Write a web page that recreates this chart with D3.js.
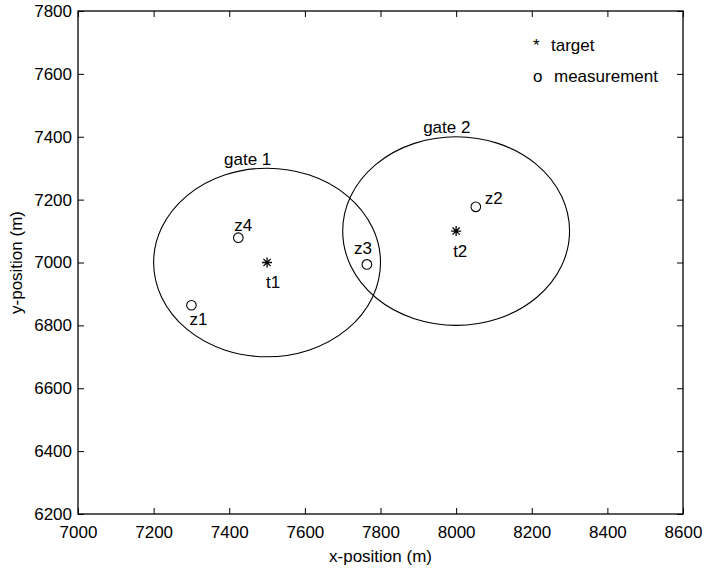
<!DOCTYPE html>
<html>
<head>
<meta charset="utf-8">
<script src="https://cdn.jsdelivr.net/npm/d3@7"></script>
<style>
  body { margin: 0; background: #fff; }
  text { font-family: Arial, "Liberation Sans", Helvetica, sans-serif; fill: #000; }
</style>
</head>
<body>
<script>
// Chart data
var xTicks = [7000, 7200, 7400, 7600, 7800, 8000, 8200, 8400, 8600];
var yTicks = [6200, 6400, 6600, 6800, 7000, 7200, 7400, 7600, 7800];

var targets = [
  {name: "t1", x: 7500, y: 7000},
  {name: "t2", x: 8000, y: 7100}
];
var measurements = [
  {name: "z1", x: 7300, y: 6864},
  {name: "z2", x: 8052, y: 7177},
  {name: "z3", x: 7764, y: 6994},
  {name: "z4", x: 7424, y: 7079}
];
var gates = [
  {name: "gate 1", x: 7500, y: 7000, r: 300},
  {name: "gate 2", x: 8000, y: 7100, r: 300}
];

// label offsets in pixels relative to the mark (layout only)
var labelOffset = {
  t1: [-1, 25], t2: [-3, 26],
  z1: [-2, 20], z2: [9, -3], z3: [-13, -10], z4: [-4, -7],
  "gate 1": [-43, -3], "gate 2": [-33, -4]
};

var width = 704, height = 569;
var margin = {left: 78, right: 21, top: 11, bottom: 55};

var svg = d3.select("body").append("svg")
  .attr("width", width)
  .attr("height", height);

var x = d3.scaleLinear().domain([7000, 8600]).range([margin.left, width - margin.right]);
var y = d3.scaleLinear().domain([6200, 7800]).range([height - margin.bottom, margin.top]);

var fs = 17;
var tickLen = 6;

// axes (ticks inward, box all round)
function styleAxis(g) {
  g.select(".domain").remove();
  g.selectAll("line").attr("stroke", "#000");
  g.selectAll("text").attr("font-size", fs).attr("font-family", null);
}
svg.append("g")
  .attr("transform", "translate(0," + y(6200) + ")")
  .call(d3.axisBottom(x).tickValues(xTicks).tickSizeInner(-tickLen).tickSizeOuter(0).tickPadding(12).tickFormat(d3.format("d")))
  .call(styleAxis);
svg.append("g")
  .attr("transform", "translate(0," + y(7800) + ")")
  .call(d3.axisTop(x).tickValues(xTicks).tickSizeInner(-tickLen).tickSizeOuter(0).tickFormat(""))
  .call(styleAxis);
svg.append("g")
  .attr("transform", "translate(" + x(7000) + ",0)")
  .call(d3.axisLeft(y).tickValues(yTicks).tickSizeInner(-tickLen).tickSizeOuter(0).tickPadding(6).tickFormat(d3.format("d")))
  .call(styleAxis);
svg.append("g")
  .attr("transform", "translate(" + x(8600) + ",0)")
  .call(d3.axisRight(y).tickValues(yTicks).tickSizeInner(-tickLen).tickSizeOuter(0).tickFormat(""))
  .call(styleAxis);

svg.append("rect")
  .attr("x", x(7000)).attr("y", y(7800))
  .attr("width", x(8600) - x(7000)).attr("height", y(6200) - y(7800))
  .attr("fill", "none").attr("stroke", "#000").attr("stroke-width", 1.3);

// axis titles
svg.append("text")
  .attr("x", (x(7000) + x(8600)) / 2).attr("y", 562)
  .attr("text-anchor", "middle").attr("font-size", fs)
  .text("x-position (m)");
svg.append("text")
  .attr("transform", "translate(22," + ((y(6200) + y(7800)) / 2) + ") rotate(-90)")
  .attr("text-anchor", "middle").attr("font-size", fs)
  .text("y-position (m)");

// gates
svg.selectAll("ellipse.gate")
    .data(gates).enter()
  .append("ellipse")
    .attr("class", "gate")
    .attr("cx", function(d) { return x(d.x); })
    .attr("cy", function(d) { return y(d.y); })
    .attr("rx", function(d) { return x(d.x + d.r) - x(d.x); })
    .attr("ry", function(d) { return y(d.y) - y(d.y + d.r); })
    .attr("fill", "none").attr("stroke", "#000").attr("stroke-width", 1.1);
svg.selectAll("text.gate")
    .data(gates).enter()
  .append("text")
    .attr("class", "gate")
    .attr("x", function(d) { return x(d.x) + labelOffset[d.name][0]; })
    .attr("y", function(d) { return y(d.y + d.r) + labelOffset[d.name][1]; })
    .attr("font-size", fs)
    .text(function(d) { return d.name; });

// target markers: 8-spoke asterisk like matlab '*'
var sr = 5, sd = 3.6;
var star = "M" + (-sr) + ",0L" + sr + ",0M0," + (-sr) + "L0," + sr +
  "M" + (-sd) + "," + (-sd) + "L" + sd + "," + sd +
  "M" + (-sd) + "," + sd + "L" + sd + "," + (-sd);
svg.selectAll("path.target")
    .data(targets).enter()
  .append("path")
    .attr("class", "target")
    .attr("d", star)
    .attr("transform", function(d) { return "translate(" + x(d.x) + "," + y(d.y) + ")"; })
    .attr("fill", "none").attr("stroke", "#000").attr("stroke-width", 1.3);

// measurement markers
svg.selectAll("circle.meas")
    .data(measurements).enter()
  .append("circle")
    .attr("class", "meas")
    .attr("cx", function(d) { return x(d.x); })
    .attr("cy", function(d) { return y(d.y); })
    .attr("r", 4.8)
    .attr("fill", "none").attr("stroke", "#000").attr("stroke-width", 1.1);

// point labels
svg.selectAll("text.pt")
    .data(targets.concat(measurements)).enter()
  .append("text")
    .attr("class", "pt")
    .attr("x", function(d) { return x(d.x) + labelOffset[d.name][0]; })
    .attr("y", function(d) { return y(d.y) + labelOffset[d.name][1]; })
    .attr("font-size", fs)
    .text(function(d) { return d.name; });

// legend
var legend = [{sym: "*", label: "target"}, {sym: "o", label: "measurement"}];
var lg = svg.append("g");
lg.selectAll("text.sym")
    .data(legend).enter()
  .append("text")
    .attr("x", 533).attr("y", function(d, i) { return 51 + i * 31; })
    .attr("font-size", fs)
    .text(function(d) { return d.sym; });
lg.selectAll("text.lab")
    .data(legend).enter()
  .append("text")
    .attr("x", function(d, i) { return i ? 554 : 551; })
    .attr("y", function(d, i) { return 51 + i * 31; })
    .attr("font-size", fs)
    .text(function(d) { return d.label; });
</script>
</body>
</html>
